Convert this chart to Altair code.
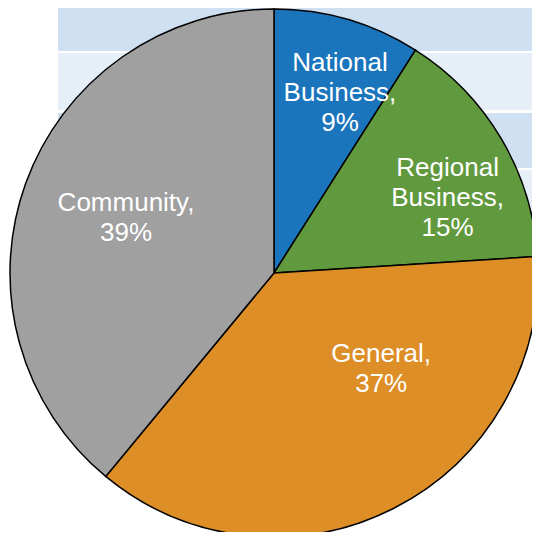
import altair as alt
import pandas as pd
import math

# Data
categories = ["National Business", "Regional Business", "General", "Community"]
values = [9, 15, 37, 39]
label_lines = [["National", "Business,", "9%"], ["Regional", "Business,", "15%"], ["General,", "37%"], ["Community,", "39%"]]
colors = ["#1b75bc", "#61993e", "#dd8e27", "#a0a0a0"]

# Label layout (angle in degrees clockwise from top, radius in px)
label_angles = [20.1, 66.7, 131.9, 290.5]
label_radii = [192, 189, 144, 158]

# Decorative background table rows (chart px): y0, y1, colour
bg_y0 = [0, 45, 105, 162, 222]
bg_y1 = [43, 102, 160, 220, 280]
bg_col = ["#cfe0f3", "#e6eff8", "#cfe0f3", "#e6eff8", "#cfe0f3"]

W, H = 524, 524
CX, CY = 266, 265
R = 264
LH = 30

df = pd.DataFrame({
    "category": categories,
    "value": values,
    "idx": list(range(len(categories))),
})

rows = []
for cat, lines, a, r in zip(categories, label_lines, label_angles, label_radii):
    bx = CX + r * math.sin(math.radians(a))
    by = CY - r * math.cos(math.radians(a))
    n = len(lines)
    for i, t in enumerate(lines):
        rows.append({"text": t, "x": bx, "y": by + (i - (n - 1) / 2) * LH})
lab = pd.DataFrame(rows)

bg = pd.DataFrame({"x0": [50] * len(bg_y0), "x1": [W] * len(bg_y0), "y0": bg_y0, "y1": bg_y1, "c": bg_col})

xs = alt.Scale(domain=[0, W], range=[0, W])
ys = alt.Scale(domain=[0, H], range=[0, H])

background = alt.Chart(bg).mark_rect().encode(
    x=alt.X("x0:Q", scale=xs, axis=None),
    x2="x1:Q",
    y=alt.Y("y0:Q", scale=ys, axis=None),
    y2="y1:Q",
    color=alt.Color("c:N", scale=None, legend=None),
)

shadow = alt.Chart(pd.DataFrame({"v": [1]})).mark_arc(
    radius=R + 4, color="#000000", opacity=0.12
).encode(theta=alt.Theta("v:Q"), x=alt.value(CX), y=alt.value(CY))

pie = alt.Chart(df).mark_arc(radius=R, stroke="#000000", strokeWidth=1.5).encode(
    theta=alt.Theta("value:Q"),
    order=alt.Order("idx:Q"),
    color=alt.Color("category:N", scale=alt.Scale(domain=categories, range=colors), legend=None),
    x=alt.value(CX),
    y=alt.value(CY),
)

labels = alt.Chart(lab).mark_text(
    color="white", font="Liberation Sans", fontSize=26, align="center", baseline="middle"
).encode(
    x=alt.X("x:Q", scale=xs, axis=None),
    y=alt.Y("y:Q", scale=ys, axis=None),
    text="text:N",
)

chart = alt.layer(background, shadow, pie, labels).properties(
    width=W, height=H, autosize=alt.AutoSizeParams(type="none"), padding=0
).configure_view(stroke=None)

chart.save("out.html", embed_options={"renderer": "svg", "actions": False})
